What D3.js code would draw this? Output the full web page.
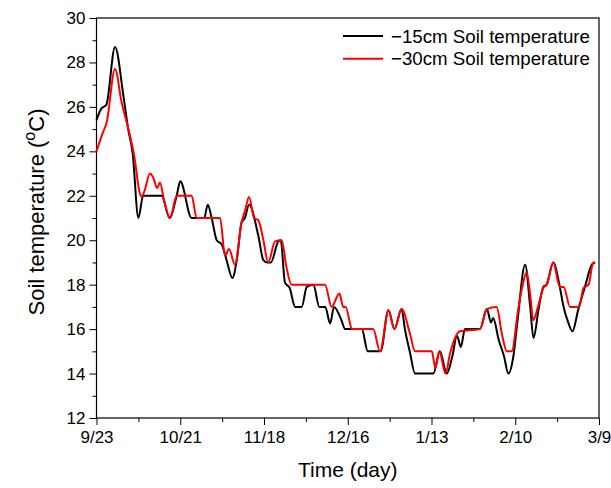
<!DOCTYPE html>
<html>
<head>
<meta charset="utf-8">
<script src="https://cdn.jsdelivr.net/npm/d3@7"></script>
<style>
  body { margin: 0; background: #fff; }
  svg { font-family: Arial, "Liberation Sans", sans-serif; }
</style>
</head>
<body>
<svg id="chart" width="611" height="488"></svg>
<script>
// Axis ticks: days since 9/23, one label every four weeks
const tickDays = [0, 28, 56, 84, 112, 140, 168];
const tickLabels = ["9/23", "10/21", "11/18", "12/16", "1/13", "2/10", "3/9"];
const yTicks = [12, 14, 16, 18, 20, 22, 24, 26, 28, 30];

const seriesNames = ["\u221215cm Soil temperature", "\u221230cm Soil temperature"];
const seriesColors = ["#000000", "#ff0000"];

// -15cm soil temperature (°C) by day
const days15 = [0, 1.5, 3.3, 6.2, 9, 10.6, 12.1, 14, 15.6, 21.8, 24.4, 26.8, 28, 31.8, 36, 37.2, 38.5,
  40.2, 41.9, 43.5, 45.4, 47, 48.5, 49.6, 51, 54.1, 55.8, 57, 58.3, 60.8, 61.6, 63, 64.6, 66.4, 68.6,
  70.3, 72.5, 74.5, 76.5, 78.1, 79.4, 81.9, 83.1, 88.7, 90.7, 95, 97.6, 99.6, 102, 103.1, 104.8,
  106.5, 112.6, 114.8, 117.1, 119, 120.5, 121.8, 123.2, 128.2, 130.5, 131.9, 132.6, 134.5, 136.2,
  137.7, 139.4, 140.7, 143.3, 145, 146.1, 147.8, 149.4, 150.5, 152.7, 154.9, 156, 157.7, 159.1,
  161.1, 163.3, 165.6, 166.7];
const temp15 = [25.4, 25.9, 26.1, 28.7, 26.5, 25, 23.9, 21, 22, 22, 21, 22, 22.65, 21, 21, 21.6, 21,
  20, 19.8, 19.1, 18.3, 19.2, 20.8, 21, 21.6, 20.2, 19.1, 19, 19, 19.95, 20, 18.1, 17.85, 17, 17,
  17.9, 18, 17, 17, 16.25, 17, 16.4, 16, 16, 15, 15, 16.85, 16, 16.9, 16, 14.95,
  14, 14, 15, 14, 14.8, 15.7, 15.2, 16, 16, 16.9, 16.3, 16.5, 15.5, 14.8,
  14, 14.8, 16.3, 18.9, 17, 15.6, 16.9, 17.9, 18, 19, 17.9, 17.1, 16.3, 15.9,
  16.9, 17.9, 18.9, 19];

// -30cm soil temperature (°C) by day
const days30 = [0, 2, 3.4, 6.2, 8.4, 10.1, 11.2, 12.6, 14.5, 15.1, 16, 17.9, 19, 20.3, 21.2, 22.6,
  24.6, 26.8, 31.8, 33.5, 41.3, 43, 44.3, 46.3, 48.5, 49.6, 51, 52.7, 54.1, 55.8, 57.4, 59.7, 61.9,
  63.5, 65.2, 76.4, 78.6, 81.2, 82.5, 83.3, 84.7, 85.3, 92.5, 94.8, 97.6, 99.6, 102, 104.8, 106.5,
  112.1, 113.3, 114.6, 116.7, 118.2, 121.5, 128.2, 130.5, 133.8, 135.5, 137.2, 138.8, 141, 142.2,
  143.8, 145.2, 146, 147.6, 149.4, 150.5, 152.7, 154.9, 156.2, 158.3, 161.4, 162.8, 164.5, 166.1, 166.7];
const temp30 = [24, 24.8, 25.3, 27.7, 26.2, 25.3, 24.7, 23.8, 22.1, 21.95, 22.2, 23, 22.8, 22.35, 22.6, 21.8,
  21, 22, 22, 21, 21, 19.3, 19.6, 18.9, 20.8, 21.3, 21.95, 21, 20.9, 20, 19, 19.95, 20,
  18.8, 18, 18, 17, 17.6, 17, 17, 16.3, 16, 16, 15, 16.85, 16, 16.9, 15.8, 15,
  15, 14.25, 15, 14, 14.9, 15.9, 16, 16.9, 17, 15.8, 15, 15, 16.9, 17.8,
  18.55, 17.3, 16.4, 17, 17.85, 18, 19, 17.9, 17.9, 17, 17, 17.85, 18, 19, 19];

const svg = d3.select("#chart");
const margin = { left: 96.5, right: 12, top: 18, bottom: 70 };
const W = 611, H = 488;
const plotW = W - margin.left - margin.right;
const plotH = H - margin.top - margin.bottom;

const x = d3.scaleLinear().domain([0, 168]).range([margin.left, margin.left + plotW]);
const y = d3.scaleLinear().domain([12, 30]).range([margin.top + plotH, margin.top]);

// minor ticks (half-steps) drawn first, majors on top
const minorX = d3.range(14, 168, 28);
const minorY = d3.range(13, 30, 2);

svg.append("g")
  .attr("transform", `translate(0,${margin.top + plotH})`)
  .call(d3.axisBottom(x).tickValues(minorX).tickSize(4).tickFormat(""))
  .call(g => g.select(".domain").remove());
svg.append("g")
  .attr("transform", `translate(${margin.left},0)`)
  .call(d3.axisLeft(y).tickValues(minorY).tickSize(4).tickFormat(""))
  .call(g => g.select(".domain").remove());

const xAxis = svg.append("g")
  .attr("transform", `translate(0,${margin.top + plotH})`)
  .call(d3.axisBottom(x).tickValues(tickDays).tickSize(7).tickPadding(6)
    .tickFormat((d, i) => tickLabels[i]));
xAxis.select(".domain").remove();
xAxis.selectAll("text").attr("font-size", 17).attr("fill", "#000");

const yAxis = svg.append("g")
  .attr("transform", `translate(${margin.left},0)`)
  .call(d3.axisLeft(y).tickValues(yTicks).tickSize(7).tickPadding(4).tickFormat(d3.format("d")));
yAxis.select(".domain").remove();
yAxis.selectAll("text").attr("font-size", 17).attr("fill", "#000");

svg.selectAll(".tick line").attr("stroke", "#000").attr("stroke-width", 1);

// plot frame
svg.append("rect")
  .attr("x", margin.left).attr("y", margin.top)
  .attr("width", plotW).attr("height", plotH)
  .attr("fill", "none").attr("stroke", "#000").attr("stroke-width", 1.2);

// series lines
const line = d3.line().curve(d3.curveMonotoneX).x(d => x(d[0])).y(d => y(d[1]));
const series = [
  days15.map((d, i) => [d, temp15[i]]),
  days30.map((d, i) => [d, temp30[i]])
];
series.forEach((pts, i) => {
  svg.append("path")
    .datum(pts)
    .attr("fill", "none")
    .attr("stroke", seriesColors[i])
    .attr("stroke-width", 2)
    .attr("stroke-linejoin", "round")
    .attr("d", line);
});

// legend
const legend = svg.append("g").attr("transform", "translate(343,36)");
seriesNames.forEach((name, i) => {
  const row = legend.append("g").attr("transform", `translate(0,${i * 22.8})`);
  row.append("line").attr("x1", 0).attr("x2", 40).attr("y1", 0).attr("y2", 0)
    .attr("stroke", seriesColors[i]).attr("stroke-width", 2);
  row.append("text").attr("x", 48).attr("y", 0).attr("dy", "0.35em")
    .attr("font-size", 18.7).attr("fill", "#000").text(name);
});

// axis titles
svg.append("text")
  .attr("x", margin.left + plotW / 2).attr("y", 477)
  .attr("text-anchor", "middle").attr("font-size", 21).attr("fill", "#000")
  .text("Time (day)");

const yTitle = svg.append("text")
  .attr("transform", `translate(44,212) rotate(-90)`)
  .attr("text-anchor", "middle").attr("font-size", 22).attr("fill", "#000");
yTitle.append("tspan").text("Soil temperature (");
yTitle.append("tspan").attr("font-size", 16).attr("dy", -9).text("o");
yTitle.append("tspan").attr("dy", 9).text("C)");
</script>
</body>
</html>
